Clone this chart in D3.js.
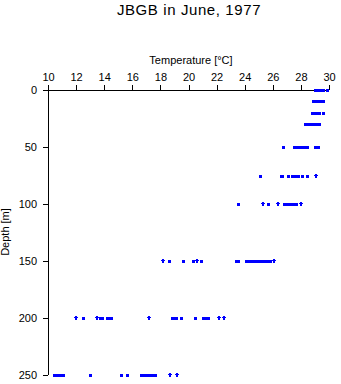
<!DOCTYPE html>
<html>
<head>
<meta charset="utf-8">
<script src="https://cdn.jsdelivr.net/npm/d3@7"></script>
<style>
html,body{margin:0;padding:0;background:#fff;}
text{font-family:"Liberation Sans",Arial,sans-serif;fill:#000;}
</style>
</head>
<body>
<svg id="chart" width="341" height="384"></svg>
<script>
const titleText = "JBGB in June, 1977";
const xLabel = "Temperature [°C]";
const yLabel = "Depth [m]";
const xTicks = [10,12,14,16,18,20,22,24,26,28,30];
const yTicks = [0,50,100,150,200,250];
const depths = [0,10,20,30,50,75,100,150,200,250];
const squareTemps = [
  [29.0,29.1,29.2,29.3,29.4,29.5,29.6,29.85],
  [28.85,28.95,29.05,29.15,29.25,29.35,29.45,29.55],
  [28.8,28.9,29.0,29.1,29.2,29.3,29.6],
  [28.3,28.4,28.5,28.6,28.7,28.8,28.9,29.0,29.1,29.2,29.3],
  [26.7,27.5,27.6,27.7,27.8,27.9,28.0,28.1,28.2,28.3,28.4,29.0,29.1,29.2],
  [25.1,26.55,26.65,27.1,27.4,27.5,27.6,27.7,27.8,28.1,28.4],
  [23.5,25.65,26.8,26.9,27.0,27.1,27.2,27.3,27.4,27.5,27.65],
  [18.6,19.6,20.3,20.9,23.4,23.55,24.1,24.2,24.3,24.4,24.5,24.6,24.7,24.8,24.9,25.0,25.1,25.2,25.3,25.4,25.5,25.6,25.7,25.8],
  [12.5,13.7,13.85,14.2,14.3,14.4,14.5,18.8,18.9,19.0,19.1,19.5,20.45,21.0,21.1,21.2,21.3,21.4],
  [10.4,10.5,10.6,10.7,10.8,10.9,11.0,11.1,13.0,15.2,15.65,16.65,16.75,16.85,16.95,17.1,17.35,17.45,17.55,17.65]
];
const crossTemps = [
  [],[],[],[],[],
  [29.05],
  [25.3,26.4,28.0],
  [18.2,20.6,26.1],
  [12.0,13.5,17.2,22.2,22.5],
  [18.7,19.2]
];

const svg = d3.select("#chart");
const x = d3.scaleLinear().domain([10,30]).range([48,329]);
const y = d3.scaleLinear().domain([0,250]).range([90,375]);

svg.append("text").attr("x",189).attr("y",15).attr("text-anchor","middle")
  .attr("font-size",15).attr("letter-spacing","0.6").text(titleText);

const xAxis = svg.append("g").attr("transform","translate(0,90)")
  .call(d3.axisTop(x).tickValues(xTicks).tickSize(5).tickPadding(4).tickFormat(d3.format("d")));
const yAxis = svg.append("g").attr("transform","translate(48,0)")
  .call(d3.axisLeft(y).tickValues(yTicks).tickSize(5).tickPadding(6).tickFormat(d3.format("d")));
[xAxis,yAxis].forEach(g=>{
  g.select(".domain").attr("stroke","#000").attr("stroke-width",1).attr("shape-rendering","crispEdges")
    .attr("d", g===xAxis ? "M48,0H329" : "M0,90V375");
  g.selectAll(".tick line").attr("stroke","#000").attr("stroke-width",1).attr("shape-rendering","crispEdges");
  g.selectAll(".tick text").attr("font-size",11).attr("font-family","Liberation Sans,Arial,sans-serif");
});

svg.append("text").attr("x",191).attr("y",64).attr("text-anchor","middle")
  .attr("font-size",11).text(xLabel);
svg.append("text").attr("transform","translate(9,232) rotate(-90)").attr("text-anchor","middle")
  .attr("font-size",11).text(yLabel);

const sq = [], cr = [];
depths.forEach((d,i)=>{
  squareTemps[i].forEach(t=>sq.push({t,d}));
  crossTemps[i].forEach(t=>cr.push({t,d}));
});
const pts = svg.append("g").attr("shape-rendering","crispEdges");
pts.selectAll("rect.sq").data(sq).join("rect").attr("class","sq")
  .attr("x",p=>Math.round(x(p.t))-1).attr("y",p=>Math.round(y(p.d))-1)
  .attr("width",3).attr("height",3).attr("fill","#0000ff");
pts.selectAll("path.cr").data(cr).join("path").attr("class","cr")
  .attr("d",p=>{const cx=Math.round(x(p.t)), cy=Math.round(y(p.d));
    return `M${cx-2},${cy-1}h4v1h-4zM${cx-1},${cy-2}h1v4h-1zM${cx},${cy-2}h1v4h-1z`;})
  .attr("fill","#0000ff");
</script>
</body>
</html>
